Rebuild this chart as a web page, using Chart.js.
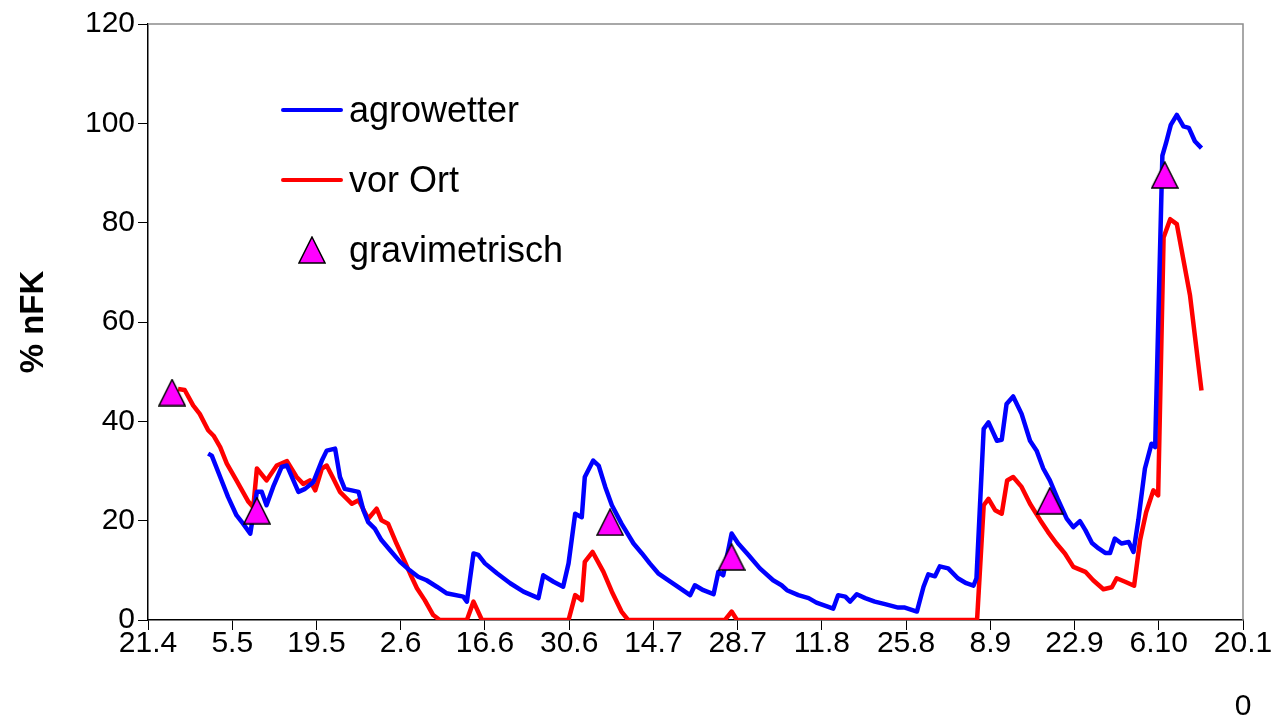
<!DOCTYPE html>
<html><head><meta charset="utf-8">
<script src="https://cdn.jsdelivr.net/npm/chart.js@4/dist/chart.umd.min.js"></script>
<style>html,body{margin:0;padding:0;background:#fff;}canvas{display:block;}</style>
</head><body>
<canvas id="c" width="1274" height="718"></canvas>
<script>
// x = days since 21.4
const tickLabels = ['21.4','5.5','19.5','2.6','16.6','30.6','14.7','28.7','11.8','25.8','8.9','22.9','6.10','20.10'];
const seriesNames = ['agrowetter', 'vor Ort', 'gravimetrisch'];
const yTitle = '% nFK';

const agroDays = [10,10.6,12,13.3,14.7,15.8,17,18.1,18.9,19.7,20.8,22.2,23.1,25,26.1,27.5,28.9,29.7,31.1,31.9,32.7,35,35.8,36.6,37.7,38.8,40.2,41.9,43.5,44.9,46.3,48,49.6,52.4,53,54.1,54.9,56,58,60.2,62.4,64.9,65.7,67.4,69,69.9,71,72.1,72.6,74,74.9,76,77.1,78.7,80.7,82.1,83.4,84.8,86.5,88.4,90.1,90.9,92.3,94,94.8,95.6,97,98.1,99.8,101.7,103.9,105.3,106.2,108.1,109.8,111.1,113.9,114.7,115.9,116.7,117.8,119.2,120.8,122.5,124.7,125.8,127.8,128.9,129.7,130.8,131.6,133,134.6,136,137.2,137.7,138.9,139.7,141.1,141.9,142.7,143.8,145.2,146.6,147.7,148.8,149.9,151.3,152.7,153.8,154.9,155.8,156.9,158,159.1,159.9,160.7,161.8,163,163.8,164.6,165.7,166.8,167.4,168.6,169.2,170,171,172.1,173,174,175.1];
const agroValues = [33.5,33.1,28.8,24.8,21.1,19.4,17.4,25.8,25.8,23.1,26.8,30.8,31.1,25.8,26.4,27.8,32.1,34.1,34.5,28.8,26.4,25.8,22.1,19.7,18.4,16.1,14.1,11.7,10.0,8.7,8.0,6.7,5.4,4.7,3.7,13.4,13.1,11.4,9.4,7.4,5.7,4.4,9.0,7.7,6.7,11.4,21.4,20.7,28.8,32.1,31.1,26.8,23.1,19.4,15.4,13.4,11.4,9.4,8.0,6.4,5.0,7.0,6.0,5.2,9.7,9.0,17.4,15.4,13.1,10.4,8.0,7.0,6.0,5.0,4.4,3.5,2.3,5.0,4.7,3.7,5.2,4.4,3.7,3.2,2.5,2.5,1.7,6.7,9.2,8.8,10.8,10.4,8.4,7.4,6.9,8.4,38.5,39.8,36.1,36.3,43.5,45.0,41.5,36.1,34.1,30.5,28.1,24.1,20.4,18.7,19.9,18.1,15.5,14.4,13.5,13.5,16.4,15.4,15.7,13.7,20.1,30.5,35.5,34.8,93.5,96.0,99.7,101.7,99.4,99.1,96.4,95.0];

const ortDays = [5,6.1,7.5,8.6,10,10.9,12,13.1,14.7,16.7,17.5,18.1,19.7,21.4,23.1,24.7,25.8,26.9,27.8,28.9,29.7,30.8,31.9,33.9,35,36.6,38,38.8,39.9,41.3,42.7,43.8,44.7,46,47.4,48.5,53,54.1,55.5,69.9,71,72.1,72.6,73.9,75.7,77.1,78.7,79.8,95.9,97,97.9,137.8,138.9,139.7,140.8,141.9,142.8,143.8,145.2,146.6,148.3,149.6,151,152.4,153.8,155.8,157.1,158.8,160.2,161,162.4,163.9,164.9,165.9,167.1,167.9,168.8,169.9,171,173.2,175.1];
const ortValues = [46.5,46.3,43.2,41.5,38.2,37.1,34.8,31.5,28.1,23.8,22.7,30.5,28.1,31.1,32.0,28.8,27.4,28.1,26.1,30.5,31.1,28.5,25.8,23.4,24.1,20.4,22.4,20.1,19.4,15.4,11.7,8.7,6.4,4.0,1.0,0,0,3.7,0,0,5.0,4.0,11.7,13.7,9.7,5.7,1.7,0,0,1.7,0,0,23.1,24.4,22.1,21.4,28.1,28.8,26.8,23.4,20.1,17.7,15.4,13.4,10.7,9.7,8.0,6.2,6.6,8.4,7.7,6.9,16.1,21.7,26.1,25.1,77.0,80.7,79.7,65.3,46.2];

const gravDays = [4, 18.1, 76.8, 97, 149.9, 169];
const gravValues = [45.8, 22.0, 19.7, 12.7, 24.0, 89.6];

const FONT = "'Liberation Sans', Arial, sans-serif";

function pts(xs, ys){ return xs.map((x,i)=>({x:x, y:ys[i]})); }

function triangleImage(){
  const w=28, h=28;
  const c=document.createElement('canvas'); c.width=w; c.height=h;
  const g=c.getContext('2d');
  g.beginPath(); g.moveTo(w/2,1); g.lineTo(w-1,h-1); g.lineTo(1,h-1); g.closePath();
  g.fillStyle='#FF00FF'; g.fill(); g.lineWidth=1.5; g.strokeStyle='#000'; g.lineJoin='miter'; g.stroke();
  return c;
}
const tri = triangleImage();

const framePlugin = {
  id:'frame',
  afterDraw(chart){
    const a=chart.chartArea, ctx=chart.ctx;
    ctx.save(); ctx.strokeStyle='#8c8c8c'; ctx.lineWidth=1.5;
    ctx.beginPath(); ctx.moveTo(a.left,a.top); ctx.lineTo(a.right,a.top); ctx.lineTo(a.right,a.bottom); ctx.stroke();
    ctx.restore();
  }
};

const legendPlugin = {
  id:'customLegend',
  afterDraw(chart){
    const a=chart.chartArea, ctx=chart.ctx;
    const x0=a.left+135, x1=a.left+193, tx=a.left+201;
    const rows=[a.top+86, a.top+156, a.top+226];
    ctx.save();
    ctx.font='36px '+FONT; ctx.fillStyle='#000'; ctx.textBaseline='middle'; ctx.textAlign='left';
    const ds=chart.data.datasets;
    [[1,0],[2,1],[0,2]].forEach(([di,ri])=>{
      const d=ds[di], y=rows[ri];
      if(d.showLine===false){
        ctx.drawImage(tri, (x0+x1)/2-tri.width/2, y-tri.height/2);
      } else {
        ctx.strokeStyle=d.borderColor; ctx.lineWidth=4; ctx.lineCap='round';
        ctx.beginPath(); ctx.moveTo(x0,y); ctx.lineTo(x1,y); ctx.stroke();
      }
      ctx.fillText(d.label, tx, y+2);
    });
    ctx.restore();
  }
};

new Chart(document.getElementById('c'), {
  type:'line',
  data:{
    datasets:[
      {label:seriesNames[2], data:pts(gravDays,gravValues), showLine:false, pointStyle:tri, pointRadius:14, order:0},
      {label:seriesNames[0], data:pts(agroDays,agroValues), borderColor:'#0000FF', borderWidth:4.5, pointRadius:0, tension:0, borderJoinStyle:'round', order:1},
      {label:seriesNames[1], data:pts(ortDays,ortValues), borderColor:'#FF0000', borderWidth:4.5, pointRadius:0, tension:0, borderJoinStyle:'round', order:2}
    ]
  },
  options:{
    responsive:false, animation:false,
    layout:{padding:{top:24,right:31,left:0,bottom:0}},
    plugins:{legend:{display:false}, tooltip:{enabled:false}},
    scales:{
      x:{type:'linear', min:0, max:182,
        afterFit(s){ s.height=98; },
        afterBuildTicks(s){ s.ticks = tickLabels.map((_,i)=>({value:i*14})); },
        ticks:{autoSkip:false, maxRotation:0, minRotation:0, color:'#000', font:{family:FONT,size:30,lineHeight:2.1}, padding:-18,
          callback(v){ const s=tickLabels[Math.round(v/14)]; return s.length>4 ? [s.slice(0,4), s.slice(4)] : s; }},
        grid:{drawOnChartArea:false, drawTicks:true, tickLength:10, color:'#000', lineWidth:1},
        border:{display:true, color:'#000', width:1.5}
      },
      y:{type:'linear', min:0, max:120,
        afterFit(s){ s.width=148; },
        ticks:{stepSize:20, color:'#000', font:{family:FONT,size:30}, padding:3},
        grid:{drawOnChartArea:false, drawTicks:true, tickLength:10, color:'#000', lineWidth:1},
        border:{display:true, color:'#000', width:1.5},
        title:{display:true, text:yTitle, color:'#000', font:{family:FONT,size:33,weight:'bold'}, padding:{top:14,bottom:0}}
      }
    }
  },
  plugins:[framePlugin, legendPlugin]
});
</script>
</body></html>
